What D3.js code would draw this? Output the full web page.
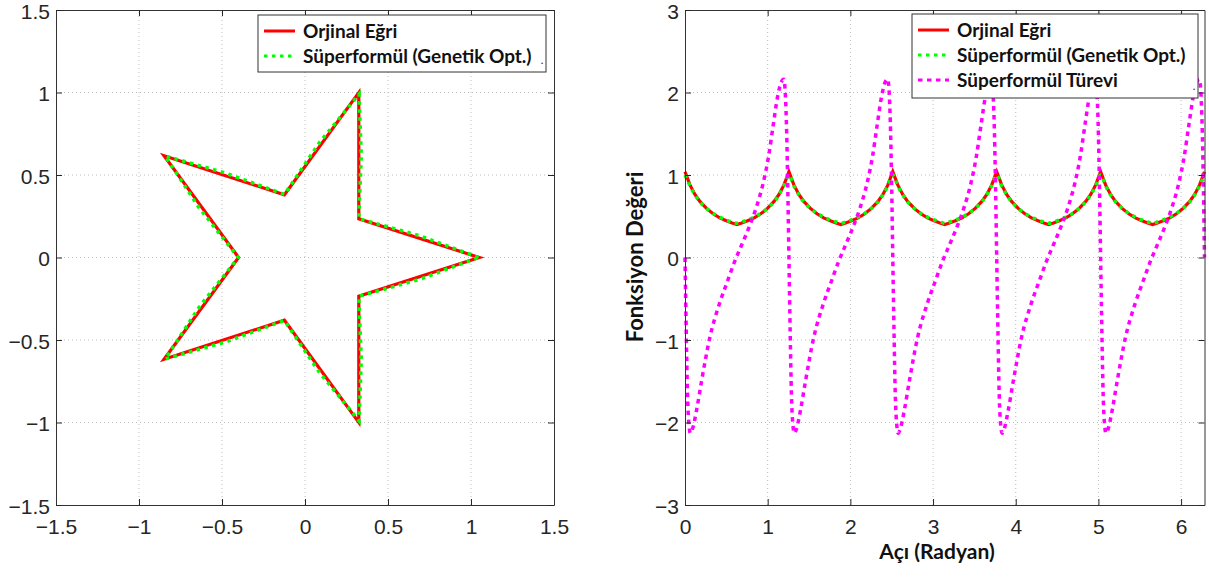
<!DOCTYPE html>
<html lang="tr">
  <head>
    <meta charset="utf-8"/>
    <title>Süperformül</title>
    <style>
      body { margin: 0; background: #fff; }
      .legend text, .axis-title {
        font-family: Lato, "Open Sans", sans-serif;
        font-weight: bold;
        fill: #111;
      }
    </style>
  </head>
  <body>
    <svg id="chart" width="1209" height="577"></svg>

    <script src="https://d3js.org/d3.v7.min.js"></script>
    <script>
      // ---- left panel: star outline (x, y) ----
      const starOriginal = [
        [1.05, 0], [0.324, 0.235], [0.324, 0.999], [-0.124, 0.380], [-0.849, 0.617],
        [-0.40, 0], [-0.849, -0.617], [-0.124, -0.380], [0.324, -0.999], [0.324, -0.235]
      ];
      const starSuper = [
        [1.045, 0], [0.692, 0.132], [0.324, 0.235], [0.339, 0.617], [0.326, 0.990],
        [0.088, 0.698], [-0.124, 0.382], [-0.482, 0.513], [-0.842, 0.615], [-0.637, 0.300],
        [-0.402, 0], [-0.637, -0.300], [-0.842, -0.615], [-0.482, -0.513], [-0.124, -0.382],
        [0.088, -0.698], [0.326, -0.990], [0.339, -0.617], [0.324, -0.235], [0.692, -0.132]
      ];
      const starTicks = [-1.5, -1, -0.5, 0, 0.5, 1, 1.5];

      // ---- right panel: function value vs angle ----
      const curveTheta = [
        0, 0.06, 0.12, 0.18, 0.26, 0.34, 0.42, 0.50, 0.57, 0.628, 0.686, 0.757, 0.837, 0.917, 0.997, 1.077, 1.137, 1.197,
        1.257, 1.317, 1.377, 1.437, 1.517, 1.597, 1.677, 1.757, 1.827, 1.885, 1.943, 2.014, 2.094, 2.174, 2.254, 2.334, 2.394, 2.454,
        2.513, 2.573, 2.633, 2.693, 2.773, 2.853, 2.933, 3.013, 3.083, 3.141, 3.199, 3.270, 3.350, 3.430, 3.510, 3.590, 3.650, 3.710,
        3.770, 3.830, 3.890, 3.950, 4.030, 4.110, 4.190, 4.270, 4.340, 4.398, 4.456, 4.527, 4.607, 4.687, 4.767, 4.847, 4.907, 4.967,
        5.027, 5.087, 5.147, 5.207, 5.287, 5.367, 5.447, 5.527, 5.597, 5.655, 5.713, 5.784, 5.864, 5.944, 6.024, 6.104, 6.164, 6.224,
        6.283
      ];
      const originalValue = [
        1.04, 0.88, 0.765, 0.68, 0.595, 0.53, 0.48, 0.445, 0.418, 0.40, 0.418, 0.445, 0.48, 0.53, 0.595, 0.68, 0.765, 0.88,
        1.04, 0.88, 0.765, 0.68, 0.595, 0.53, 0.48, 0.445, 0.418, 0.40, 0.418, 0.445, 0.48, 0.53, 0.595, 0.68, 0.765, 0.88,
        1.04, 0.88, 0.765, 0.68, 0.595, 0.53, 0.48, 0.445, 0.418, 0.40, 0.418, 0.445, 0.48, 0.53, 0.595, 0.68, 0.765, 0.88,
        1.04, 0.88, 0.765, 0.68, 0.595, 0.53, 0.48, 0.445, 0.418, 0.40, 0.418, 0.445, 0.48, 0.53, 0.595, 0.68, 0.765, 0.88,
        1.04, 0.88, 0.765, 0.68, 0.595, 0.53, 0.48, 0.445, 0.418, 0.40, 0.418, 0.445, 0.48, 0.53, 0.595, 0.68, 0.765, 0.88,
        1.04
      ];
      const superValue = [
        1.00, 0.87, 0.76, 0.675, 0.595, 0.535, 0.49, 0.455, 0.43, 0.415, 0.43, 0.455, 0.49, 0.535, 0.595, 0.675, 0.76, 0.87,
        1.00, 0.87, 0.76, 0.675, 0.595, 0.535, 0.49, 0.455, 0.43, 0.415, 0.43, 0.455, 0.49, 0.535, 0.595, 0.675, 0.76, 0.87,
        1.00, 0.87, 0.76, 0.675, 0.595, 0.535, 0.49, 0.455, 0.43, 0.415, 0.43, 0.455, 0.49, 0.535, 0.595, 0.675, 0.76, 0.87,
        1.00, 0.87, 0.76, 0.675, 0.595, 0.535, 0.49, 0.455, 0.43, 0.415, 0.43, 0.455, 0.49, 0.535, 0.595, 0.675, 0.76, 0.87,
        1.00, 0.87, 0.76, 0.675, 0.595, 0.535, 0.49, 0.455, 0.43, 0.415, 0.43, 0.455, 0.49, 0.535, 0.595, 0.675, 0.76, 0.87,
        1.00
      ];
      const derivTheta = [
        0, 0.015, 0.030, 0.050, 0.065, 0.090, 0.140, 0.200, 0.300, 0.420, 0.520, 0.600, 0.680, 0.780, 0.860, 0.945, 1.010, 1.065, 1.120, 1.166, 1.195, 1.215, 1.230, 1.243,
        1.257, 1.272, 1.287, 1.307, 1.322, 1.347, 1.397, 1.457, 1.557, 1.677, 1.777, 1.857, 1.937, 2.037, 2.117, 2.202, 2.267, 2.322, 2.377, 2.423, 2.452, 2.472, 2.487, 2.500,
        2.513, 2.528, 2.543, 2.563, 2.578, 2.603, 2.653, 2.713, 2.813, 2.933, 3.033, 3.113, 3.193, 3.293, 3.373, 3.458, 3.523, 3.578, 3.633, 3.679, 3.708, 3.728, 3.743, 3.756,
        3.770, 3.785, 3.800, 3.820, 3.835, 3.860, 3.910, 3.970, 4.070, 4.190, 4.290, 4.370, 4.450, 4.550, 4.630, 4.715, 4.780, 4.835, 4.890, 4.936, 4.965, 4.985, 5.000, 5.013,
        5.027, 5.042, 5.057, 5.077, 5.092, 5.117, 5.167, 5.227, 5.327, 5.447, 5.547, 5.627, 5.707, 5.807, 5.887, 5.972, 6.037, 6.092, 6.147, 6.193, 6.222, 6.242, 6.257, 6.270,
        6.283
      ];
      const derivValue = [
        0, -0.90, -1.65, -2.05, -2.13, -2.08, -1.85, -1.50, -0.97, -0.55, -0.27, -0.05, 0.14, 0.38, 0.60, 0.90, 1.22, 1.59, 1.95, 2.13, 2.16, 1.95, 1.50, 0.85,
        0, -0.90, -1.65, -2.05, -2.13, -2.08, -1.85, -1.50, -0.97, -0.55, -0.27, -0.05, 0.14, 0.38, 0.60, 0.90, 1.22, 1.59, 1.95, 2.13, 2.16, 1.95, 1.50, 0.85,
        0, -0.90, -1.65, -2.05, -2.13, -2.08, -1.85, -1.50, -0.97, -0.55, -0.27, -0.05, 0.14, 0.38, 0.60, 0.90, 1.22, 1.59, 1.95, 2.13, 2.16, 1.95, 1.50, 0.85,
        0, -0.90, -1.65, -2.05, -2.13, -2.08, -1.85, -1.50, -0.97, -0.55, -0.27, -0.05, 0.14, 0.38, 0.60, 0.90, 1.22, 1.59, 1.95, 2.13, 2.16, 1.95, 1.50, 0.85,
        0, -0.90, -1.65, -2.05, -2.13, -2.08, -1.85, -1.50, -0.97, -0.55, -0.27, -0.05, 0.14, 0.38, 0.60, 0.90, 1.22, 1.59, 1.95, 2.13, 2.16, 1.95, 1.50, 0.85,
        0
      ];
      const angleTicks = [0, 1, 2, 3, 4, 5, 6];
      const valueTicks = [-3, -2, -1, 0, 1, 2, 3];

      const labelOriginal = "Orjinal Eğri";
      const labelSuper = "Süperformül (Genetik Opt.)";
      const labelDeriv = "Süperformül Türevi";

      const RED = "#ff0000", GREEN = "#00ff00", MAGENTA = "#ff00ff";
      const fmt = d3.format("~g");

      const svg = d3.select("#chart");
      svg.append("rect").attr("width", 1209).attr("height", 577).attr("fill", "#fff");

      const xStar = d3.scaleLinear().domain([-1.5, 1.5]).range([56, 554]);
      const yStar = d3.scaleLinear().domain([-1.5, 1.5]).range([505, 10]);
      const xAng = d3.scaleLinear().domain([0, 2 * Math.PI]).range([685, 1204.5]);
      const yFn = d3.scaleLinear().domain([-3, 3]).range([505, 10]);

      function drawGrid(x, y, xTicks, yTicks) {
        const g = svg.append("g").attr("class", "grid");
        const xd = x.domain(), yd = y.domain();
        g.selectAll(".vgrid")
          .data(xTicks.filter(function(t) { return t > xd[0] && t < xd[1]; }))
          .enter().append("line")
            .attr("x1", function(d) { return x(d); })
            .attr("x2", function(d) { return x(d); })
            .attr("y1", y.range()[0])
            .attr("y2", y.range()[1]);
        g.selectAll(".hgrid")
          .data(yTicks.filter(function(t) { return t > yd[0] && t < yd[1]; }))
          .enter().append("line")
            .attr("y1", function(d) { return y(d); })
            .attr("y2", function(d) { return y(d); })
            .attr("x1", x.range()[0])
            .attr("x2", x.range()[1]);
        g.selectAll("line")
          .attr("stroke", "#bcbcbc")
          .attr("stroke-width", 1)
          .attr("stroke-dasharray", "1,3");
      }

      function drawAxes(x, y, xTicks, yTicks) {
        const g = svg.append("g")
          .attr("class", "axes")
          .style("color", "#262626");
        const bottom = y.range()[0], top = y.range()[1];
        const left = x.range()[0], right = x.range()[1];

        g.append("g").attr("transform", "translate(0," + bottom + ")")
          .call(d3.axisBottom(x).tickValues(xTicks).tickFormat(fmt)
            .tickSizeInner(-6).tickSizeOuter(0).tickPadding(14));
        g.append("g").attr("transform", "translate(0," + top + ")")
          .call(d3.axisTop(x).tickValues(xTicks).tickFormat("")
            .tickSizeInner(-6).tickSizeOuter(0));
        const yAxis = g.append("g").attr("transform", "translate(" + left + ",0)")
          .call(d3.axisLeft(y).tickValues(yTicks).tickFormat(fmt)
            .tickSizeInner(-6).tickSizeOuter(0).tickPadding(6));
        // keep the top label inside the page
        yAxis.selectAll(".tick text").attr("dy", "0.4em");
        g.append("g").attr("transform", "translate(" + right + ",0)")
          .call(d3.axisRight(y).tickValues(yTicks).tickFormat("")
            .tickSizeInner(-6).tickSizeOuter(0));

        g.selectAll("g")
          .attr("font-size", 21)
          .attr("font-family", "'Liberation Sans', Arial, sans-serif");
        g.selectAll("path.domain").attr("stroke", "#333");
      }

      function drawLegend(x, y, w, h, items) {
        const g = svg.append("g").attr("class", "legend");
        g.append("rect")
          .attr("x", x).attr("y", y)
          .attr("width", w).attr("height", h)
          .attr("fill", "#fff")
          .attr("stroke", "#333")
          .attr("stroke-width", 1);
        items.forEach(function(it, i) {
          const cy = y + 16 + i * 25;
          g.append("line")
            .attr("x1", x + 6).attr("x2", x + 37)
            .attr("y1", cy).attr("y2", cy)
            .attr("stroke", it.color)
            .attr("stroke-width", 3)
            .attr("stroke-dasharray", it.dash || null);
          g.append("text")
            .attr("x", x + 45)
            .attr("y", cy + 6.5)
            .style("font-size", "19px")
            .text(it.label);
        });
        g.append("text")
          .attr("x", x + w - 5).attr("y", y + h - 8)
          .style("font-size", "9px")
          .text(".");
      }

      // ---- left panel ----
      drawGrid(xStar, yStar, starTicks, starTicks);

      const starLine = d3.line()
        .x(function(d) { return xStar(d[0]); })
        .y(function(d) { return yStar(d[1]); })
        .curve(d3.curveLinearClosed);

      svg.append("path")
        .datum(starOriginal)
        .attr("d", starLine)
        .attr("fill", "none")
        .attr("stroke", RED)
        .attr("stroke-width", 3.2)
        .attr("stroke-linejoin", "miter");

      svg.append("path")
        .datum(starSuper)
        .attr("d", starLine)
        .attr("fill", "none")
        .attr("stroke", GREEN)
        .attr("stroke-width", 3.5)
        .attr("stroke-dasharray", "3.5,4.5");

      drawAxes(xStar, yStar, starTicks, starTicks);

      drawLegend(258, 15, 288, 57, [
        { label: labelOriginal, color: RED },
        { label: labelSuper, color: GREEN, dash: "3.5,4.5" }
      ]);

      // ---- right panel ----
      drawGrid(xAng, yFn, angleTicks, valueTicks);

      const origData = curveTheta.map(function(t, i) { return [t, originalValue[i]]; });
      const superData = curveTheta.map(function(t, i) { return [t, superValue[i]]; });
      const derivData = derivTheta.map(function(t, i) { return [t, derivValue[i]]; });

      function fnLine(curve) {
        return d3.line()
          .x(function(d) { return xAng(d[0]); })
          .y(function(d) { return yFn(d[1]); })
          .curve(curve);
      }

      svg.append("path")
        .datum(origData)
        .attr("d", fnLine(d3.curveLinear))
        .attr("fill", "none")
        .attr("stroke", RED)
        .attr("stroke-width", 3.2);

      svg.append("path")
        .datum(superData)
        .attr("d", fnLine(d3.curveCatmullRom))
        .attr("fill", "none")
        .attr("stroke", GREEN)
        .attr("stroke-width", 3.5)
        .attr("stroke-dasharray", "3.5,4.5");

      svg.append("path")
        .datum(derivData)
        .attr("d", fnLine(d3.curveMonotoneX))
        .attr("fill", "none")
        .attr("stroke", MAGENTA)
        .attr("stroke-width", 3.5)
        .attr("stroke-dasharray", "4.5,4.5");

      drawAxes(xAng, yFn, angleTicks, valueTicks);

      svg.append("text")
        .attr("class", "axis-title")
        .attr("x", 937)
        .attr("y", 559)
        .attr("text-anchor", "middle")
        .style("font-size", "21px")
        .text("Açı (Radyan)");

      svg.append("text")
        .attr("class", "axis-title")
        .attr("transform", "translate(643,257) rotate(-90)")
        .attr("text-anchor", "middle")
        .style("font-size", "22px")
        .text("Fonksiyon Değeri");

      drawLegend(912, 14, 286, 84, [
        { label: labelOriginal, color: RED },
        { label: labelSuper, color: GREEN, dash: "3.5,4.5" },
        { label: labelDeriv, color: MAGENTA, dash: "4.5,4.5" }
      ]);
    </script>
  </body>
</html>
